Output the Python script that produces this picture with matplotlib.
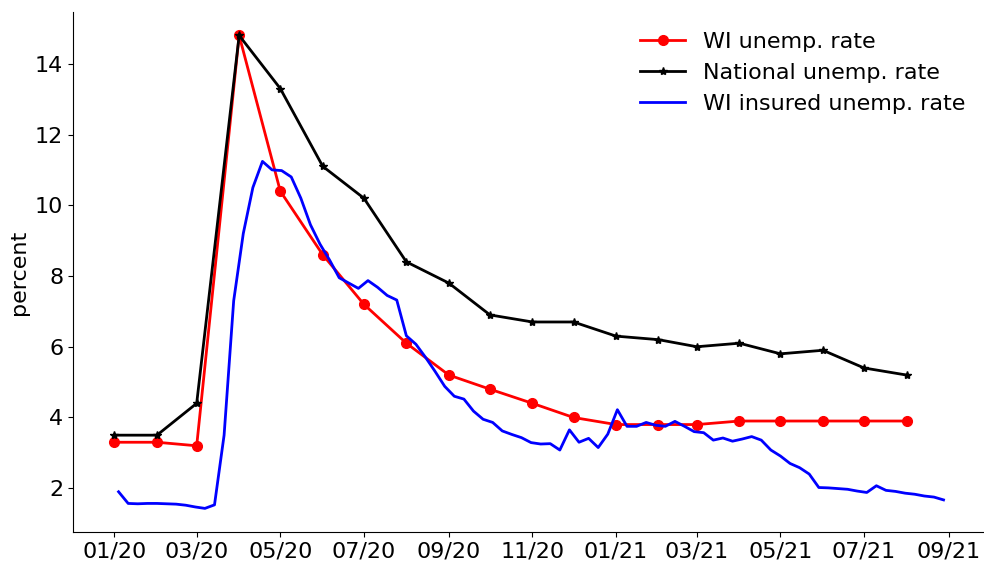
import pandas as pd
import numpy as np
import matplotlib
matplotlib.use("Agg")
import matplotlib.pyplot as plt
import matplotlib.dates as mdates

# monthly series (first of month)
meses = pd.date_range("2020-01-01", "2021-08-01", freq="MS")
wi_rate = [3.3, 3.3, 3.2, 14.8, 10.4, 8.6, 7.2, 6.1, 5.2, 4.8, 4.4, 4.0,
           3.8, 3.8, 3.8, 3.9, 3.9, 3.9, 3.9, 3.9]
us_rate = [3.5, 3.5, 4.4, 14.8, 13.3, 11.1, 10.2, 8.4, 7.8, 6.9, 6.7, 6.7,
           6.3, 6.2, 6.0, 6.1, 5.8, 5.9, 5.4, 5.2]

# weekly insured unemployment rate
semanas = pd.date_range("2020-01-04", "2021-08-28", freq="7D")
wi_insured = [1.90, 1.57, 1.56, 1.57, 1.57, 1.56, 1.55, 1.52, 1.47, 1.43,
              1.53, 3.50, 7.30, 9.20, 10.50, 11.24, 11.00, 10.98, 10.80, 10.20,
              9.45, 8.90, 8.45, 7.95, 7.80, 7.65, 7.87, 7.68, 7.45, 7.32,
              6.31, 6.07, 5.70, 5.30, 4.88, 4.60, 4.52, 4.18, 3.95, 3.86,
              3.62, 3.52, 3.43, 3.29, 3.25, 3.26, 3.08, 3.65, 3.30, 3.41,
              3.15, 3.53, 4.22, 3.75, 3.75, 3.86, 3.78, 3.75, 3.89, 3.75,
              3.60, 3.57, 3.36, 3.42, 3.33, 3.39, 3.46, 3.36, 3.08, 2.91,
              2.70, 2.58, 2.40, 2.02, 2.01, 1.99, 1.97, 1.92, 1.88, 2.07,
              1.94, 1.91, 1.86, 1.83, 1.78, 1.75, 1.67]

fig = plt.figure(figsize=(9.84, 5.63), dpi=100)
ax = fig.add_axes([0.0742, 0.055, 0.9268, 0.924])

ax.plot(meses, wi_rate, color="red", marker="o", markersize=7, lw=2,
        label="WI unemp. rate")
ax.plot(meses, us_rate, color="black", marker="*", markersize=6, lw=2,
        label="National unemp. rate")
ax.plot(semanas, wi_insured, color="blue", lw=2, label="WI insured unemp. rate")

ax.xaxis.set_major_locator(mdates.MonthLocator(bymonth=[1, 3, 5, 7, 9, 11]))
ax.xaxis.set_major_formatter(mdates.DateFormatter("%m/%y"))
ax.tick_params(labelsize=16)
ax.set_ylabel("percent", fontsize=16)

ax.spines["top"].set_visible(False)
ax.spines["right"].set_visible(False)

ax.legend(loc="upper right", frameon=False, fontsize=16)

fig.savefig("out.png", dpi=100)
